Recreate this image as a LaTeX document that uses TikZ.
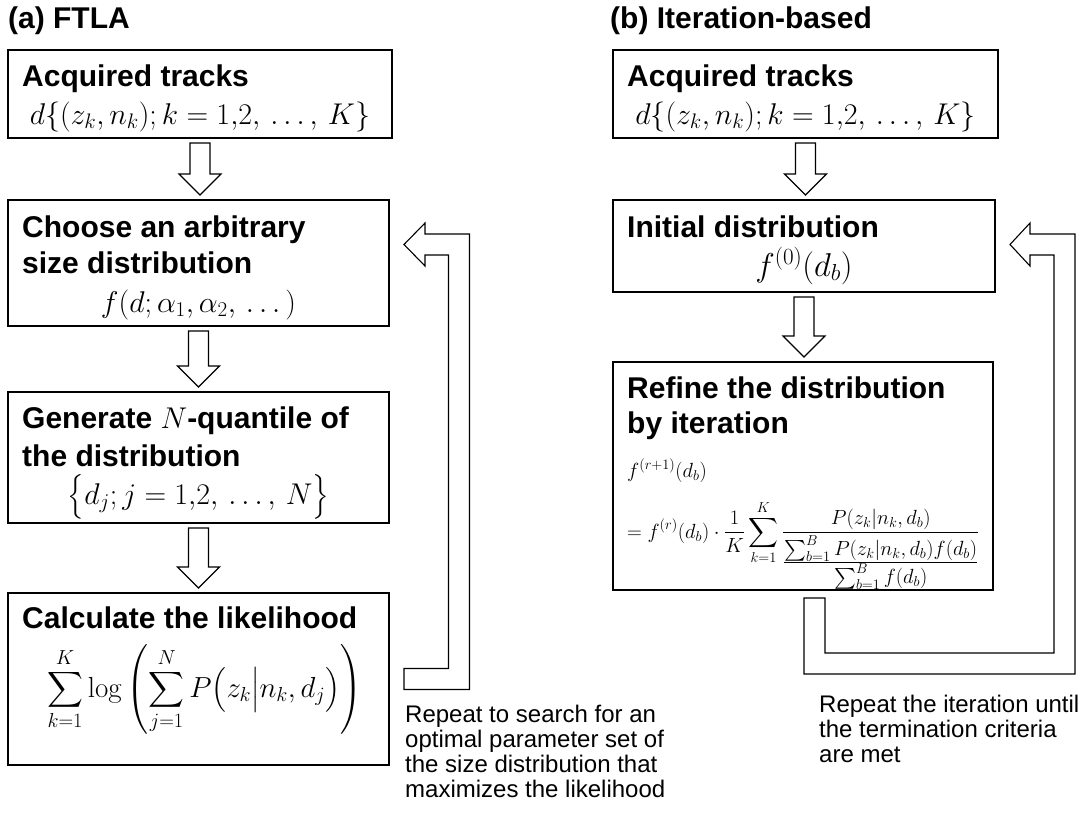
\RequirePackage{fix-cm}
\documentclass[tikz,border=0pt]{standalone}
\usepackage{amsmath}
\usepackage[no-math]{fontspec}
\setmainfont{Liberation Sans}
\usetikzlibrary{calc}
\tikzset{
  box/.style={draw, line width=1.3pt, anchor=north west, inner sep=0pt, outer sep=0pt},
  head/.style={font=\fontsize{30}{36}\selectfont\bfseries, anchor=base west, inner sep=0pt},
  ttl/.style={font=\fontsize{30}{36}\selectfont\bfseries, anchor=base west, inner sep=0pt},
  eq/.style={font=\fontsize{30}{36}\selectfont, anchor=base, inner sep=0pt},
  small eq/.style={font=\fontsize{20.5}{24}\selectfont, anchor=base west, inner sep=0pt},
  note/.style={font=\fontsize{24}{25}\selectfont, anchor=north west, inner sep=0pt, align=left},
  blk/.style={draw, line width=1.1pt, fill=white, line join=miter},
}
\newcommand\blockdown[2]{%
  \draw[blk] let \p1=(#1.south), \p2=(#2.north) in
    (\x1-10pt,\y1-5pt) -- (\x1+10pt,\y1-5pt) -- (\x1+10pt,\y2+26pt) -- (\x1+21pt,\y2+26pt)
    -- (\x1,\y2+5pt) -- (\x1-21pt,\y2+26pt) -- (\x1-10pt,\y2+26pt) -- cycle;}
\begin{document}
\begin{tikzpicture}[x=1pt,y=-1pt]
\fill[white] (0,0) rectangle (1086,814);
\useasboundingbox (0,0) rectangle (1086,814);

% titles
\node[ttl] (ta) at (8,28) {(a) FTLA};
\node[ttl] (tb) at (610,28) {(b) Iteration-based};

% ---- column (a)
\node[box, minimum width=384pt, minimum height=88pt] (a1) at (8,50) {};
\node[box, minimum width=381pt, minimum height=126pt] (a2) at (8,200) {};
\node[box, minimum width=381pt, minimum height=131pt] (a3) at (8,392) {};
\node[box, minimum width=381pt, minimum height=172pt] (a4) at (8,593) {};

\node[head] (a1t) at ($(a1.north west)+(14,36)$) {Acquired tracks};
\node[eq] (a1m) at ($(a1.north)+(0,74)$) {$d\{(z_k,n_k);k=1{,}2,\,\ldots,\,K\}$};

\node[head] (a2t) at ($(a2.north west)+(14,37)$) {Choose an arbitrary};
\node[head] (a2u) at ($(a2.north west)+(14,73)$) {size distribution};
\node[eq] (a2m) at ($(a2.north)+(0,112)$) {$f(d;\alpha_1,\alpha_2,\,\ldots\,)$};

\node[head] (a3t) at ($(a3.north west)+(14,36)$) {Generate $N$-quantile of};
\node[head] (a3u) at ($(a3.north west)+(14,74)$) {the distribution};
\node[eq] (a3m) at ($(a3.north)+(0,112)$) {$\bigl\{d_j;j=1{,}2,\,\ldots,\,N\bigr\}$};

\node[head] (a4t) at ($(a4.north west)+(14,35)$) {Calculate the likelihood};
\node[eq, font=\fontsize{29}{34}\selectfont] (a4m) at ($(a4.north)+(6,104)$)
  {$\displaystyle\sum_{k=1}^{K}\log\left(\sum_{j=1}^{N}P\bigl(z_k\big|n_k,d_j\bigr)\right)$};

\blockdown{a1}{a2}
\blockdown{a2}{a3}
\blockdown{a3}{a4}

% loop arrow (a)
\coordinate (ltip) at ($(a2.north east)+(15,44.5)$);
\coordinate (ltail) at ($(a4.east)+(15,0)$);
\draw[blk] let \p1=(ltip), \p2=(ltail) in
  (\p1) -- (\x1+21pt,\y1+21.5pt) -- (\x1+21pt,\y1+10.5pt) -- (\x1+65.5pt,\y1+10.5pt)
  -- (\x1+65.5pt,\y2-10.5pt) -- (\x2,\y2-10.5pt) -- (\x2,\y2+10.5pt)
  -- (\x1+44.5pt,\y2+10.5pt) -- (\x1+44.5pt,\y1-10.5pt) -- (\x1+21pt,\y1-10.5pt)
  -- (\x1+21pt,\y1-21.5pt) -- cycle;

\node[note] (na) at (405,704.5) {Repeat to search for an\\optimal parameter set of\\the size distribution that\\maximizes the likelihood};

% ---- column (b)
\node[box, minimum width=385pt, minimum height=88pt] (b1) at (613,50) {};
\node[box, minimum width=382pt, minimum height=92pt] (b2) at (613,200) {};
\node[box, minimum width=380pt, minimum height=228pt] (b3) at (613,362) {};

\node[head] (b1t) at ($(b1.north west)+(14,36)$) {Acquired tracks};
\node[eq] (b1m) at ($(b1.north)+(0,74)$) {$d\{(z_k,n_k);k=1{,}2,\,\ldots,\,K\}$};

\node[head] (b2t) at ($(b2.north west)+(14,37)$) {Initial distribution};
\node[eq, font=\fontsize{33}{38}\selectfont] (b2m) at ($(b2.north)+(0,76)$) {$f^{(0)}(d_b)$};

\node[head] (b3t) at ($(b3.north west)+(14,36)$) {Refine the distribution};
\node[head] (b3u) at ($(b3.north west)+(14,71)$) {by iteration};
\node[small eq] (b3f) at ($(b3.north west)+(14,115)$) {$f^{(r+1)}(d_b)$};
\node[small eq] (b3g) at ($(b3.north west)+(14,176)$)
  {$\displaystyle =f^{(r)}(d_b)\cdot\frac{1}{K}\sum_{k=1}^{K}\frac{P(z_k|n_k,d_b)}{\frac{\textstyle\sum_{b=1}^{B}P(z_k|n_k,d_b)f(d_b)}{\textstyle\sum_{b=1}^{B}f(d_b)}}$};

\blockdown{b1}{b2}
\blockdown{b2}{b3}

% loop arrow (b)
\coordinate (rtip) at ($(b2.east)+(15,-1.5)$);
\coordinate (rtail) at ($(b3.south)+(11.5,8)$);
\draw[blk] let \p1=(rtip), \p2=(rtail) in
  (\p1) -- (\x1+20pt,\y1+21.5pt) -- (\x1+20pt,\y1+10.5pt) -- (\x1+65pt,\y1+10.5pt)
  -- (\x1+65pt,\y2-76pt) -- (\x2-10.5pt,\y2-76pt) -- (\x2-10.5pt,\y2)
  -- (\x2+10.5pt,\y2) -- (\x2+10.5pt,\y2-55pt) -- (\x1+44pt,\y2-55pt)
  -- (\x1+44pt,\y1-10.5pt) -- (\x1+20pt,\y1-10.5pt) -- (\x1+20pt,\y1-21.5pt) -- cycle;

\node[note] (nb) at (819,694.5) {Repeat the iteration until\\the termination criteria\\are met};
\end{tikzpicture}
\end{document}
